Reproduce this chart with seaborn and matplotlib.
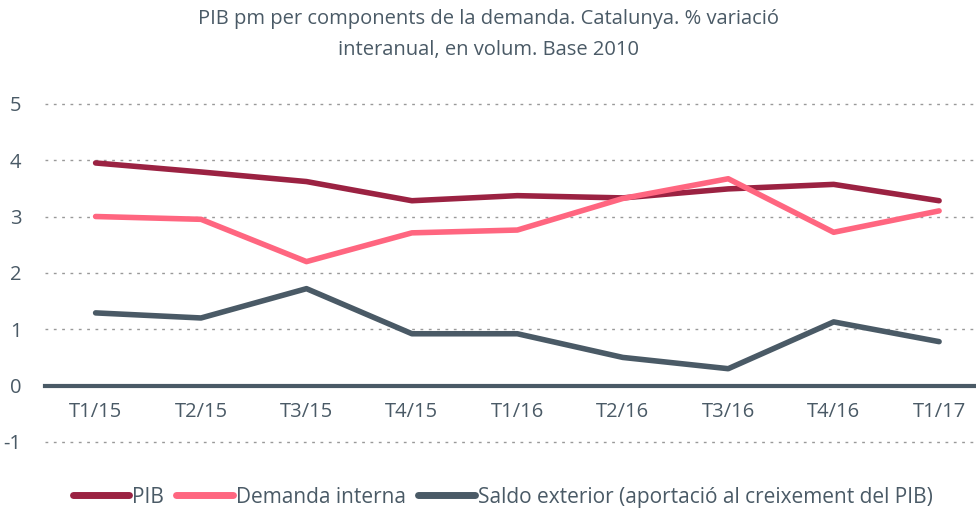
import matplotlib
matplotlib.use("Agg")
import matplotlib.pyplot as plt
import seaborn as sns
import pandas as pd

# Dades llegides del gràfic
trimestres = ["T1/15", "T2/15", "T3/15", "T4/15", "T1/16", "T2/16", "T3/16", "T4/16", "T1/17"]
pib = [3.95, 3.79, 3.62, 3.28, 3.37, 3.33, 3.49, 3.57, 3.28]
demanda_interna = [3.0, 2.95, 2.2, 2.71, 2.76, 3.32, 3.67, 2.72, 3.1]
saldo_exterior = [1.29, 1.2, 1.72, 0.92, 0.92, 0.5, 0.3, 1.13, 0.78]

series = ["PIB", "Demanda interna", "Saldo exterior (aportació al creixement del PIB)"]
colors = ["#9B2242", "#FF6680", "#4A5A66"]
text_color = "#4A5A66"

df = pd.DataFrame({"trimestre": trimestres, series[0]: pib,
                   series[1]: demanda_interna, series[2]: saldo_exterior})
long = df.melt(id_vars="trimestre", var_name="serie", value_name="valor")

sns.set_style("white")
plt.rcParams["font.family"] = ["Open Sans", "DejaVu Sans"]
plt.rcParams["axes.unicode_minus"] = False

fig = plt.figure(figsize=(9.76, 5.11), dpi=100)
ax = fig.add_axes([45 / 976, 0.102, 1 - 45 / 976, 0.728])

sns.lineplot(data=long, x="trimestre", y="valor", hue="serie", hue_order=series,
             palette=colors, linewidth=4, ax=ax, sort=False)
for line in ax.lines:
    line.set_solid_capstyle("round")

ax.set_xlim(-0.48, 8.35)
ax.set_ylim(-1.3, 5.3)
ax.set_yticks(range(-1, 6))
ax.yaxis.grid(True, linestyle=(0, (2, 4)), color="#999999", linewidth=1)
ax.set_axisbelow(True)

for s in ["top", "right", "left"]:
    ax.spines[s].set_visible(False)
ax.spines["bottom"].set_position(("data", 0))
ax.spines["bottom"].set_color(text_color)
ax.spines["bottom"].set_linewidth(3)

ax.tick_params(axis="both", length=0, labelsize=14.5, colors=text_color)
ax.tick_params(axis="x", pad=12)
ax.tick_params(axis="y", pad=17)
ax.set_xlabel("")
ax.set_ylabel("")

fig.text(0.5, 0.962, "PIB pm per components de la demanda. Catalunya. % variació",
         ha="center", va="center", fontsize=14.5, color=text_color)
fig.text(0.5, 0.903, "interanual, en volum. Base 2010",
         ha="center", va="center", fontsize=14.5, color=text_color)

handles, labels = ax.get_legend_handles_labels()
leg = ax.legend(handles, labels, loc="center", bbox_to_anchor=(0.515, 0.027),
                bbox_transform=fig.transFigure, ncol=3, frameon=False, fontsize=15,
                labelcolor=text_color, handlelength=2.7, handletextpad=0.15,
                columnspacing=0.6)
for h in leg.get_lines():
    h.set_linewidth(5)
    h.set_solid_capstyle("round")

fig.savefig("out.png", dpi=100)
